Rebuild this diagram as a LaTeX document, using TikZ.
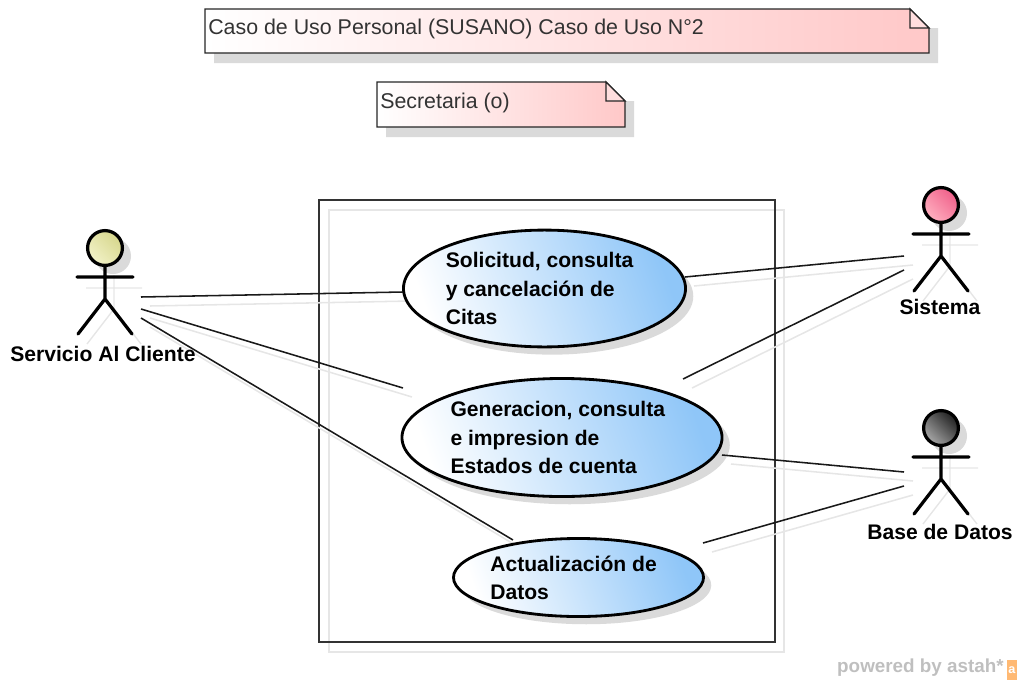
\documentclass[tikz,border=0pt]{standalone}
\usepackage{fontspec}
\setmainfont{Liberation Sans}
\usetikzlibrary{shapes.geometric,shadows}
\definecolor{notepink}{HTML}{FFC8C8}
\definecolor{caseblue}{HTML}{8FC6F8}
\definecolor{shadowgray}{HTML}{DADADA}
\definecolor{shadowlight}{HTML}{E6E6E6}
\definecolor{clientelight}{HTML}{F2F2C8}
\definecolor{clientedark}{HTML}{D6D68C}
\definecolor{sistemalight}{HTML}{FFB0C0}
\definecolor{sistemadark}{HTML}{F0608A}
\definecolor{baselight}{HTML}{A8A8A8}
\definecolor{basedark}{HTML}{202020}
\newcommand{\actorfig}[5]{% x, y (head centre), head colours, name
  \draw[shadowline] (#1-19,#2+40) -- (#1+37,#2+40) (#1+9,#2+27) -- (#1+9,#2+61)
    (#1+9,#2+61) -- (#1-18,#2+96) (#1+9,#2+61) -- (#1+36,#2+96);
  \fill[shadowgray] (#1+8,#2+8) circle (18);
  \draw[actorline] (#1,#2+18) -- (#1,#2+51) (#1-28,#2+29) -- (#1+28,#2+29)
    (#1,#2+51) -- (#1-27,#2+86) (#1,#2+51) -- (#1+27,#2+86);
  \node[actorhead,left color=#3,right color=#4,shading angle=135] (#5) at (#1,#2) {};
}
\begin{document}
\begin{tikzpicture}[x=0.025cm,y=-0.025cm,
    notetext/.style={inner sep=0pt,anchor=west,font=\fontsize{15.2}{17}\selectfont,text=black!80},
    notebody/.style={draw=black!85,line width=0.9pt,left color=white,middle color=notepink!85,right color=notepink},
    notefold/.style={draw=black!85,line width=0.9pt,fill=notepink!60},
    shadowbox/.style={fill=shadowgray,draw=none},
    shadowline/.style={draw=shadowlight,line width=1pt},
    actorline/.style={draw=black,line width=2.3pt,line cap=round},
    actorhead/.style={circle,draw=black,line width=2.3pt,minimum size=0.87cm,inner sep=0pt},
    actorname/.style={font=\fontsize{15}{17}\bfseries\selectfont,inner sep=0pt},
    usecase/.style={ellipse,draw=black,line width=2pt,left color=white,right color=caseblue,
      shading angle=110,inner sep=0pt,align=left,font=\fontsize{15}{20}\bfseries\selectfont,
      drop shadow={shadow xshift=5.5pt,shadow yshift=-5.5pt,fill=shadowgray,opacity=1}},
    assoc/.style={draw=black!90,line width=1.1pt},
    assocshadow/.style={draw=shadowlight,line width=1.1pt}]
  \useasboundingbox (0,0) rectangle (1019,684);

  % notes
  \fill[shadowbox] (214,53) rectangle (938,63) (929,28) rectangle (938,63);
  \draw[notebody] (205,9) -- (910,9) -- (929,28) -- (929,53) -- (205,53) -- cycle;
  \draw[notefold] (910,9) -- (910,28) -- (929,28) -- cycle;
  \node[notetext] (title) at (208,29) {Caso de Uso Personal (SUSANO) Caso de Uso N°2};

  \fill[shadowbox] (386,127) rectangle (634,137) (625,101) rectangle (634,137);
  \draw[notebody] (377,82) -- (606,82) -- (625,101) -- (625,127) -- (377,127) -- cycle;
  \draw[notefold] (606,82) -- (606,101) -- (625,101) -- cycle;
  \node[notetext] (role) at (380,103) {Secretaria (o)};

  % system box
  \draw[shadowline] (329,210) rectangle (784,652);
  \draw[draw=black!80,line width=0.8pt] (319,200) rectangle (775,642);

  % connector ends
  \coordinate (c1) at (141,297);
  \coordinate (c2) at (141,309);
  \coordinate (c3) at (141,318);
  \coordinate (s1) at (904,256);
  \coordinate (s2) at (904,270);
  \coordinate (b1) at (904,472);
  \coordinate (b2) at (904,486);
  \coordinate (u1) at (403,292);
  \coordinate (u2) at (403,388);
  \coordinate (u3) at (513,540);
  \coordinate (u4) at (685,277);
  \coordinate (u5) at (683,379);
  \coordinate (u6) at (722,455);
  \coordinate (u7) at (703,543);

  \foreach \from/\to in {c1/u1,c2/u2,c3/u3,u4/s1,u5/s2,u6/b1,u7/b2}
    \draw[assocshadow] ([shift={(9,9)}]\from) -- ([shift={(9,9)}]\to);

  % actors
  \actorfig{105}{248}{clientelight}{clientedark}{cliente}
  \actorfig{941}{205}{sistemalight}{sistemadark}{sistema}
  \actorfig{941}{428}{baselight}{basedark}{base}
  \node[actorname] (clientename) at (103,354) {Servicio Al Cliente};
  \node[actorname] (sistemaname) at (940,307) {Sistema};
  \node[actorname] (basename) at (940,532) {Base de Datos};

  % use cases
  \node[usecase,minimum width=7.05cm,minimum height=2.92cm] (solicitud) at (544.5,288.5)
    {Solicitud, consulta\kern7pt\\y cancelación de\\Citas};
  \node[usecase,minimum width=8.0cm,minimum height=2.95cm] (generacion) at (562,437.5)
    {Generacion, consulta\kern6pt\\e impresion de\\Estados de cuenta};
  \node[usecase,minimum width=6.25cm,minimum height=1.95cm] (actualizacion) at (578.5,577.5)
    {Actualización de\kern7pt\\Datos};

  \draw[assoc] (c1) -- (u1);
  \draw[assoc] (c2) -- (u2);
  \draw[assoc] (c3) -- (u3);
  \draw[assoc] (u4) -- (s1);
  \draw[assoc] (u5) -- (s2);
  \draw[assoc] (u6) -- (b1);
  \draw[assoc] (u7) -- (b2);

  % credit
  \node[font=\fontsize{13.4}{15}\bfseries\selectfont,text=black!25,inner sep=0pt,anchor=east] (credit) at (1004,668) {powered by astah*};
  \node[fill=orange!55,text=white,inner sep=0pt,minimum width=7pt,minimum height=14pt,font=\fontsize{9}{9}\bfseries\selectfont] (logo) at (1012,670) {a};
\end{tikzpicture}
\end{document}
